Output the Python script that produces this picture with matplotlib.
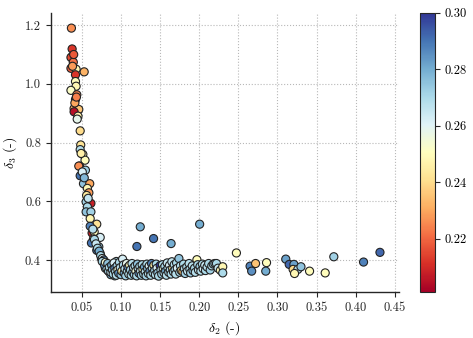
import matplotlib
matplotlib.use("Agg")
import matplotlib.pyplot as plt
import numpy as np

plt.rcParams["font.family"] = "serif"
plt.rcParams["font.serif"] = ["cmr10"]
plt.rcParams["mathtext.fontset"] = "cm"
plt.rcParams["axes.formatter.use_mathtext"] = True
plt.rcParams["font.size"] = 9

# upper branch (steep part of the front)
d2_top = [0.0366, 0.0375, 0.0370, 0.0360, 0.0390, 0.0360, 0.0426, 0.0529, 0.0418, 0.0380,
          0.0418, 0.0426, 0.0360, 0.0435, 0.0418, 0.0400, 0.0460, 0.0400, 0.0450, 0.0440,
          0.0478, 0.0485, 0.0478, 0.0512, 0.0540, 0.0470, 0.0490, 0.0460, 0.0545, 0.0478,
          0.0520, 0.0600, 0.0570, 0.0589, 0.0554, 0.0615, 0.0570, 0.0554, 0.0615, 0.0606,
          0.0690, 0.0606, 0.0630, 0.0657, 0.0734, 0.0648, 0.0622, 0.0716, 0.0690, 0.0734,
          0.0750, 0.0780, 0.0395, 0.0410, 0.0430, 0.0505, 0.0530, 0.0560, 0.0580, 0.0640]
d3_top = [1.190, 1.119, 1.092, 1.090, 1.074, 1.053, 1.050, 1.041, 1.031, 1.060,
          1.008, 0.992, 0.978, 0.963, 0.947, 0.916, 0.913, 0.905, 0.890, 0.880,
          0.840, 0.792, 0.776, 0.760, 0.740, 0.720, 0.763, 0.720, 0.706, 0.687,
          0.660, 0.660, 0.644, 0.629, 0.598, 0.593, 0.581, 0.564, 0.564, 0.541,
          0.522, 0.515, 0.492, 0.496, 0.477, 0.472, 0.458, 0.445, 0.433, 0.422,
          0.405, 0.394, 1.100, 0.935, 0.955, 0.700, 0.680, 0.620, 0.610, 0.505]
c_top = [0.226, 0.212, 0.205, 0.215, 0.222, 0.218, 0.248, 0.232, 0.212, 0.228,
         0.250, 0.248, 0.252, 0.225, 0.228, 0.232, 0.235, 0.205, 0.247, 0.258,
         0.240, 0.242, 0.268, 0.248, 0.250, 0.222, 0.246, 0.226, 0.272, 0.290,
         0.275, 0.230, 0.248, 0.228, 0.272, 0.208, 0.270, 0.275, 0.272, 0.248,
         0.242, 0.288, 0.208, 0.250, 0.262, 0.250, 0.290, 0.275, 0.290, 0.272,
         0.282, 0.270, 0.218, 0.230, 0.224, 0.262, 0.278, 0.244, 0.266, 0.268]

# knee and flat part of the front
d2_low = [0.066, 0.068, 0.070, 0.072, 0.074, 0.076, 0.078, 0.079, 0.081, 0.082,
          0.084, 0.086, 0.088, 0.090, 0.080, 0.083, 0.085, 0.076, 0.079, 0.082,
          0.084, 0.086, 0.080, 0.083, 0.088, 0.087, 0.092, 0.090, 0.094, 0.097,
          0.085, 0.087, 0.088, 0.089, 0.090, 0.091, 0.092, 0.093, 0.094, 0.095,
          0.096, 0.097, 0.098, 0.099, 0.100, 0.101, 0.102, 0.103, 0.104, 0.105,
          0.106, 0.107, 0.108, 0.109, 0.110, 0.111, 0.112, 0.113, 0.114, 0.115,
          0.116, 0.117, 0.118, 0.119, 0.120, 0.121, 0.122, 0.123, 0.124, 0.125,
          0.126, 0.127, 0.128, 0.129, 0.130, 0.131, 0.132, 0.133, 0.134, 0.135,
          0.136, 0.137, 0.138, 0.139, 0.140, 0.141, 0.142, 0.143, 0.144, 0.145,
          0.146, 0.147, 0.148, 0.150, 0.151, 0.152, 0.153, 0.154, 0.155, 0.156,
          0.157, 0.158, 0.159, 0.160, 0.161, 0.162, 0.163, 0.164, 0.165, 0.166,
          0.167, 0.168, 0.169, 0.170, 0.171, 0.172, 0.174, 0.175, 0.176, 0.177,
          0.179, 0.180, 0.181, 0.182, 0.184, 0.185, 0.187, 0.188, 0.189, 0.191,
          0.192, 0.194, 0.195, 0.197, 0.198, 0.199, 0.201, 0.202, 0.204, 0.205,
          0.207, 0.208, 0.210, 0.212, 0.214, 0.216, 0.218, 0.220, 0.222, 0.224,
          0.227, 0.230, 0.230]
d3_low = [0.470, 0.455, 0.440, 0.430, 0.415, 0.405, 0.400, 0.390, 0.385, 0.378,
          0.372, 0.368, 0.364, 0.360, 0.372, 0.365, 0.360, 0.395, 0.382, 0.370,
          0.362, 0.378, 0.392, 0.388, 0.372, 0.350, 0.346, 0.384, 0.395, 0.385,
          0.375, 0.358, 0.382, 0.366, 0.352, 0.390, 0.372, 0.360, 0.348, 0.380,
          0.367, 0.355, 0.392, 0.374, 0.350, 0.362, 0.403, 0.383, 0.356, 0.370,
          0.346, 0.388, 0.362, 0.376, 0.352, 0.382, 0.366, 0.348, 0.388, 0.358,
          0.374, 0.350, 0.380, 0.362, 0.346, 0.386, 0.370, 0.355, 0.378, 0.362,
          0.348, 0.384, 0.368, 0.352, 0.376, 0.360, 0.346, 0.386, 0.370, 0.354,
          0.380, 0.362, 0.348, 0.388, 0.372, 0.356, 0.382, 0.364, 0.350, 0.386,
          0.372, 0.356, 0.345, 0.381, 0.366, 0.352, 0.384, 0.370, 0.356, 0.378,
          0.362, 0.348, 0.390, 0.372, 0.358, 0.382, 0.366, 0.352, 0.394, 0.371,
          0.360, 0.384, 0.366, 0.352, 0.390, 0.372, 0.405, 0.358, 0.380, 0.364,
          0.360, 0.386, 0.370, 0.354, 0.376, 0.362, 0.388, 0.368, 0.356, 0.380,
          0.364, 0.372, 0.358, 0.401, 0.384, 0.366, 0.378, 0.362, 0.386, 0.370,
          0.382, 0.364, 0.376, 0.388, 0.366, 0.380, 0.386, 0.388, 0.388, 0.372,
          0.365, 0.377, 0.356]
c_low = [0.270, 0.265, 0.270, 0.280, 0.270, 0.260, 0.285, 0.270, 0.250, 0.275,
         0.290, 0.270, 0.260, 0.280, 0.270, 0.285, 0.270, 0.270, 0.285, 0.268,
         0.272, 0.262, 0.255, 0.275, 0.270, 0.280, 0.270, 0.268, 0.270, 0.245,
         0.270, 0.265, 0.280, 0.275, 0.270, 0.262, 0.285, 0.270, 0.268, 0.272,
         0.255, 0.285, 0.270, 0.268, 0.275, 0.245, 0.262, 0.270, 0.280, 0.268,
         0.272, 0.258, 0.270, 0.285, 0.268, 0.250, 0.272, 0.270, 0.268, 0.280,
         0.265, 0.272, 0.270, 0.255, 0.270, 0.275, 0.268, 0.285, 0.270, 0.265,
         0.272, 0.270, 0.250, 0.270, 0.280, 0.268, 0.272, 0.270, 0.275, 0.268,
         0.262, 0.285, 0.270, 0.288, 0.268, 0.270, 0.245, 0.272, 0.268, 0.270,
         0.262, 0.275, 0.270, 0.300, 0.268, 0.272, 0.270, 0.255, 0.268, 0.270,
         0.280, 0.268, 0.265, 0.270, 0.272, 0.262, 0.268, 0.270, 0.266, 0.245,
         0.270, 0.268, 0.272, 0.268, 0.270, 0.262, 0.275, 0.270, 0.268, 0.240,
         0.235, 0.270, 0.268, 0.272, 0.270, 0.265, 0.268, 0.270, 0.272, 0.268,
         0.275, 0.270, 0.268, 0.250, 0.270, 0.265, 0.272, 0.268, 0.270, 0.262,
         0.265, 0.270, 0.268, 0.270, 0.272, 0.268, 0.270, 0.272, 0.270, 0.265,
         0.248, 0.248, 0.270]

# isolated points away from the front
d2_out = [0.1246, 0.1416, 0.1203, 0.1640, 0.2005, 0.2475, 0.265, 0.272, 0.267, 0.286,
          0.285, 0.3106, 0.315, 0.321, 0.320, 0.326, 0.3218, 0.330, 0.341, 0.361,
          0.372, 0.410, 0.431]
d3_out = [0.513, 0.473, 0.446, 0.456, 0.522, 0.424, 0.379, 0.388, 0.362, 0.391,
          0.362, 0.403, 0.385, 0.385, 0.368, 0.368, 0.354, 0.377, 0.362, 0.356,
          0.411, 0.393, 0.426]
c_out = [0.280, 0.290, 0.290, 0.280, 0.280, 0.250, 0.288, 0.235, 0.285, 0.250,
         0.280, 0.282, 0.292, 0.282, 0.240, 0.268, 0.248, 0.275, 0.250, 0.250,
         0.272, 0.288, 0.292]

d2 = np.array(d2_top + d2_low + d2_out)
d3 = np.array(d3_top + d3_low + d3_out)
cval = np.array(c_top + c_low + c_out)

fig = plt.figure(figsize=(4.73, 3.38), dpi=100)
ax = fig.add_axes([0.107, 0.137, 0.736, 0.825])
cax = fig.add_axes([0.889, 0.137, 0.030, 0.825])

sc = ax.scatter(d2, d3, c=cval, cmap="RdYlBu", vmin=0.2013, vmax=0.30,
                s=34, edgecolors="#222222", linewidths=0.8, zorder=3)

ax.set_xlim(0.01, 0.455)
ax.set_ylim(0.292, 1.242)
ax.set_xticks([0.05, 0.10, 0.15, 0.20, 0.25, 0.30, 0.35, 0.40, 0.45])
ax.set_xticklabels(["0.05", "0.10", "0.15", "0.20", "0.25", "0.30", "0.35", "0.40", "0.45"])
ax.set_yticks([0.4, 0.6, 0.8, 1.0, 1.2])
ax.set_yticklabels(["0.4", "0.6", "0.8", "1.0", "1.2"])
ax.grid(True, linestyle=":", color="#b8b8b8", linewidth=0.8, zorder=0)
ax.spines["top"].set_visible(False)
ax.spines["right"].set_visible(False)
for s in ["left", "bottom"]:
    ax.spines[s].set_color("#262626")
    ax.spines[s].set_linewidth(1.0)
ax.tick_params(direction="out", length=3.5, width=0.8, color="#262626", labelcolor="#262626")
ax.set_xlabel(r"$\delta_2$ (-)", fontsize=10)
ax.set_ylabel(r"$\delta_3$ (-)", fontsize=10)

cb = fig.colorbar(sc, cax=cax)
cb.set_ticks([0.22, 0.24, 0.26, 0.28, 0.30])
cb.set_ticklabels(["0.22", "0.24", "0.26", "0.28", "0.30"])
cb.outline.set_linewidth(0.8)
cb.outline.set_edgecolor("#262626")
cax.tick_params(direction="out", length=3.5, width=0.8, color="#262626")

fig.savefig("out.png", dpi=100)
